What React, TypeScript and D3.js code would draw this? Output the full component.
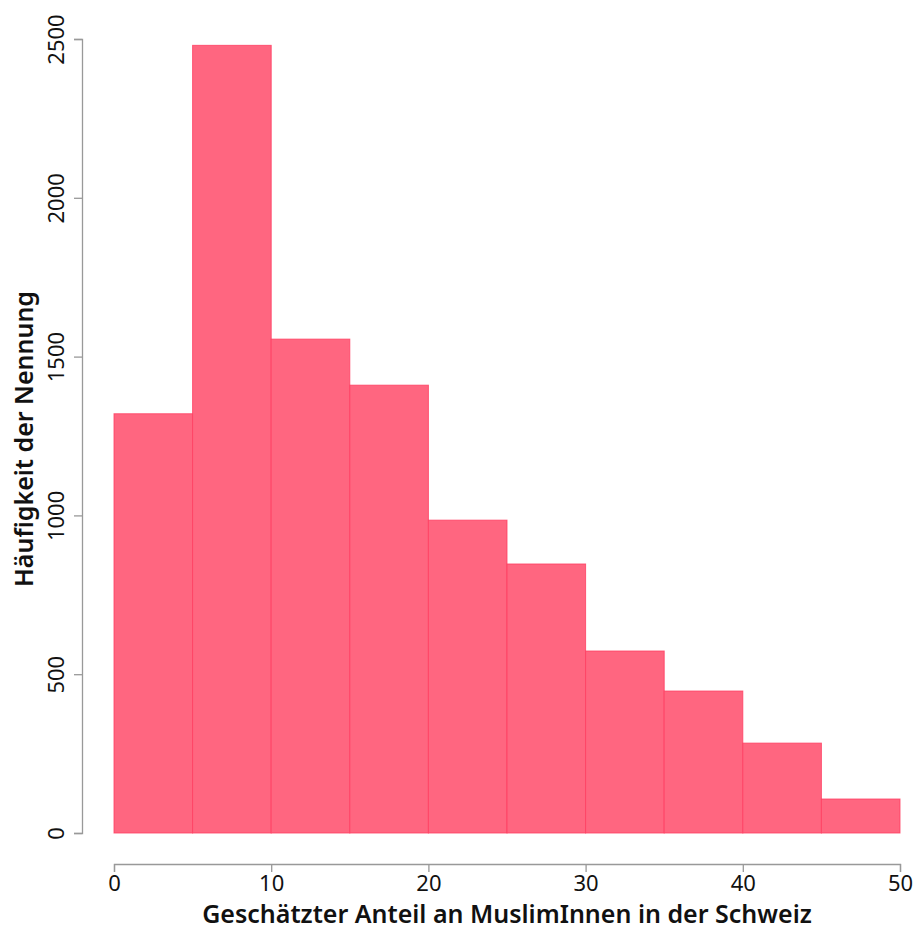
import React, { useRef, useEffect } from 'react';
import * as d3 from 'd3';

// histogram bins (percent), counts
const binStarts = [0, 5, 10, 15, 20, 25, 30, 35, 40, 45];
const binWidth = 5;
const counts = [1320, 2480, 1555, 1410, 985, 847, 573, 447, 283, 107];
const xTicks = [0, 10, 20, 30, 40, 50];
const yTicks = [0, 500, 1000, 1500, 2000, 2500];
const xTitle = 'Geschätzter Anteil an MuslimInnen in der Schweiz';
const yTitle = 'Häufigkeit der Nennung';

const W = 916;
const H = 929;
const FONT = '"Noto Sans", "Open Sans", sans-serif';

const App: React.FC = () => {
  const ref = useRef<SVGSVGElement | null>(null);

  useEffect(() => {
    const svg = d3.select(ref.current);
    svg.selectAll('*').remove();

    const x = d3.scaleLinear().domain([0, 50]).range([114, 900]);
    const y = d3.scaleLinear().domain([0, 2500]).range([833, 39]);

    svg.append('g')
      .selectAll('rect')
      .data(binStarts)
      .enter().append('rect')
      .attr('x', d => x(d))
      .attr('width', d => x(d + binWidth) - x(d))
      .attr('y', (d, i) => y(counts[i]))
      .attr('height', (d, i) => y(0) - y(counts[i]))
      .attr('fill', '#ff6680')
      .attr('stroke', '#ff3d60')
      .attr('stroke-opacity', 0.8)
      .attr('stroke-width', 1);

    // y axis
    const ya = svg.append('g')
      .attr('transform', 'translate(82,0)')
      .call(d3.axisLeft(y).tickValues(yTicks).tickSize(8).tickFormat(d3.format('d')));
    ya.select('.domain').attr('stroke', '#999').attr('stroke-width', 1.3);
    ya.selectAll('.tick line').attr('stroke', '#999').attr('stroke-width', 1.3);
    ya.selectAll('.tick text')
      .attr('x', null).attr('dy', null)
      .attr('transform', 'translate(-18,0) rotate(-90)')
      .attr('text-anchor', 'middle')
      .attr('fill', '#111')
      .style('font-family', FONT)
      .style('font-size', '22px');

    // x axis
    const xa = svg.append('g')
      .attr('transform', 'translate(0,864)')
      .call(d3.axisBottom(x).tickValues(xTicks).tickSize(8));
    xa.select('.domain').attr('stroke', '#999').attr('stroke-width', 1.3);
    xa.selectAll('.tick line').attr('stroke', '#999').attr('stroke-width', 1.3);
    xa.selectAll('.tick text')
      .attr('y', 27).attr('dy', null)
      .attr('fill', '#111')
      .style('font-family', FONT)
      .style('font-size', '22px');

    svg.append('text')
      .attr('x', 507).attr('y', 923)
      .attr('text-anchor', 'middle')
      .style('font-family', FONT)
      .style('font-size', '25px')
      .style('font-weight', 600)
      .attr('fill', '#111')
      .text(xTitle);

    svg.append('text')
      .attr('transform', 'translate(33,439) rotate(-90)')
      .attr('text-anchor', 'middle')
      .style('font-family', FONT)
      .style('font-size', '25px')
      .style('font-weight', 600)
      .attr('fill', '#111')
      .text(yTitle);
  }, []);

  return <svg ref={ref} width={W} height={H} style={{ position: 'absolute', left: 0, top: 0 }} />;
};

export default App;
